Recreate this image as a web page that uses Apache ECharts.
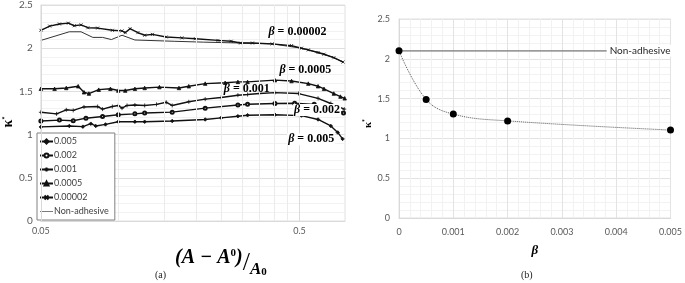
<!DOCTYPE html>
<html>
<head>
<meta charset="utf-8">
<title>kappa</title>
<script src="https://cdn.jsdelivr.net/npm/echarts@6/dist/echarts.min.js"></script>
<style>html,body{margin:0;padding:0;background:#fff;}</style>
</head>
<body>
<div id="main" style="width:685px;height:283px;"></div>
<script type="text/javascript">
// (a) kappa* vs (A-A0)/A0, log x
var s005 = [[0.05,1.089],[0.0644,1.10],[0.0727,1.092],[0.078,1.126],[0.0815,1.10],[0.0889,1.118],[0.0996,1.149],[0.1155,1.149],[0.126,1.149],[0.161,1.157],[0.216,1.175],[0.249,1.194],[0.289,1.213],[0.315,1.224],[0.402,1.23],[0.509,1.22],[0.59,1.175],[0.661,1.10],[0.703,1.025],[0.734,0.95]];
var s002 = [[0.05,1.157],[0.059,1.168],[0.0667,1.16],[0.0747,1.19],[0.0866,1.21],[0.0996,1.23],[0.1155,1.24],[0.126,1.25],[0.161,1.26],[0.216,1.306],[0.289,1.343],[0.315,1.351],[0.402,1.36],[0.479,1.363],[0.57,1.35],[0.64,1.32],[0.703,1.28],[0.74,1.25]];
var s001 = [[0.05,1.258],[0.0575,1.24],[0.0627,1.287],[0.0667,1.28],[0.0734,1.32],[0.0829,1.325],[0.0866,1.295],[0.0945,1.325],[0.0996,1.337],[0.103,1.306],[0.1077,1.337],[0.1155,1.343],[0.126,1.337],[0.14,1.35],[0.1527,1.374],[0.161,1.337],[0.1866,1.38],[0.216,1.41],[0.249,1.43],[0.289,1.456],[0.315,1.464],[0.35,1.475],[0.402,1.486],[0.496,1.475],[0.59,1.42],[0.661,1.36],[0.745,1.295]];
var s0005 = [[0.05,1.53],[0.0565,1.53],[0.0627,1.54],[0.0697,1.56],[0.0734,1.49],[0.0767,1.475],[0.0837,1.52],[0.0929,1.53],[0.0996,1.51],[0.106,1.51],[0.1155,1.53],[0.126,1.54],[0.1437,1.55],[0.171,1.54],[0.1866,1.56],[0.216,1.59],[0.258,1.60],[0.289,1.61],[0.315,1.61],[0.402,1.63],[0.466,1.62],[0.541,1.59],[0.59,1.56],[0.622,1.53],[0.679,1.475],[0.72,1.44],[0.748,1.42]];
var s00002 = [[0.05,2.207],[0.0541,2.256],[0.059,2.28],[0.0639,2.29],[0.0673,2.26],[0.0715,2.27],[0.076,2.237],[0.0829,2.233],[0.0945,2.207],[0.103,2.20],[0.106,2.18],[0.1106,2.226],[0.1186,2.18],[0.126,2.15],[0.135,2.16],[0.1527,2.13],[0.1756,2.12],[0.198,2.11],[0.242,2.09],[0.272,2.08],[0.296,2.06],[0.329,2.06],[0.392,2.05],[0.466,2.03],[0.509,2.0],[0.541,1.98],[0.59,1.95],[0.622,1.93],[0.679,1.89],[0.737,1.84]];
var nonAdh = [[0.05,2.09],[0.0644,2.19],[0.0715,2.19],[0.0794,2.125],[0.0866,2.125],[0.0937,2.10],[0.103,2.15],[0.1155,2.095],[0.164,2.08],[0.213,2.07],[0.296,2.06],[0.392,2.05],[0.509,2.0],[0.541,1.98],[0.622,1.93],[0.679,1.89],[0.737,1.84]];
var legendNames = ['0.005', '0.002', '0.001', '0.0005', '0.00002', 'Non-adhesive'];
var xMajorA = [0.05, 0.5];
var xMinorA = [0.1, 0.15, 0.2, 0.25, 0.3, 0.35, 0.4, 0.45];

// (b) kappa* vs beta
var beta = [0, 0.0005, 0.001, 0.002, 0.005];
var kappa = [2.10, 1.49, 1.305, 1.22, 1.105];
var kappaNonAdh = 2.10;

var myChart = echarts.init(document.getElementById('main'));

var gray = '#595959';
var serif = 'Liberation Serif';
var crossSym = 'path://M0,0L10,10M10,0L0,10';
var plusSym = 'path://M5,0L5,10M0,5L10,5';
var lineIcon = 'path://M0,4.5L20,4.5L20,5.5L0,5.5Z';

function betaLabel(txt, x, y, bg) {
	return {
		silent: true,
		symbol: 'circle',
		symbolSize: 0,
		label: {
			show: true, position: 'inside',
			formatter: '{i|β} = ' + txt,
			fontFamily: serif, fontWeight: 'bold', fontSize: 12, color: '#000',
			backgroundColor: bg ? '#fff' : 'transparent',
			padding: [0, 1],
			rich: { i: { fontFamily: serif, fontWeight: 'bold', fontStyle: 'italic', fontSize: 12, color: '#000' } }
		},
		data: [{ coord: [x, y] }]
	};
}

function curve(name, data, sym, size, extra) {
	var s = {
		name: name, type: 'line', xAxisIndex: 0, yAxisIndex: 0,
		data: data, symbol: sym, symbolSize: size, showSymbol: true,
		z: 3,
		itemStyle: { color: '#111', borderColor: '#111', borderWidth: 0.8 },
		lineStyle: { color: '#111', width: 1.4 },
		emphasis: { disabled: true }
	};
	for (var k in extra) s[k] = extra[k];
	return s;
}

var gridLinesA = xMinorA.map(function (v) { return { xAxis: v }; });
xMajorA.forEach(function (v) {
	gridLinesA.push({
		xAxis: v,
		lineStyle: { color: v === 0.05 ? '#d9d9d9' : '#dcdcdc' },
		label: { show: true, position: 'start', distance: 6, formatter: String(v), color: gray, fontSize: 9, fontFamily: 'Lato' }
	});
});

var option = {
	animation: false,
	backgroundColor: '#fff',
	textStyle: { fontFamily: 'Lato' },
	grid: [
		{ left: 34, top: 4, width: 311, height: 222, show: true, borderColor: '#e0e0e0', borderWidth: 1 },
		{ left: 399, top: 19, width: 275, height: 199, show: true, borderColor: '#e0e0e0', borderWidth: 1 }
	],
	legend: {
		orient: 'vertical', left: 37, top: 133,
		data: legendNames.map(function (n) {
			return n === 'Non-adhesive' ? { name: n, icon: lineIcon } : { name: n };
		}),
		backgroundColor: '#fff',
		borderColor: '#808080', borderWidth: 1,
		padding: [4, 6, 4, 2],
		itemGap: 5, itemWidth: 13, itemHeight: 5,
		textStyle: { fontSize: 9, color: '#404040', fontFamily: 'Lato', padding: [0, 0, 0, -4] }
	},
	xAxis: [
		{
			type: 'log', logBase: 10, gridIndex: 0, min: 0.05, max: 0.75,
			axisLabel: { show: false }, axisTick: { show: false }, splitLine: { show: false },
			axisLine: { lineStyle: { color: '#d9d9d9' } },
			name: '{p|(A − A}{sup|0}{p|)}{sl|/}{d|A}{sub|0}',
			nameLocation: 'middle', nameGap: 27,
			nameTextStyle: {
				padding: [0, 0, 0, 56],
				rich: {
					p: { fontFamily: serif, fontWeight: 'bold', fontStyle: 'italic', fontSize: 20, color: '#000', lineHeight: 30, verticalAlign: 'top' },
					sup: { fontFamily: serif, fontWeight: 'bold', fontSize: 11, color: '#000', lineHeight: 30, verticalAlign: 'top' },
					sl: { fontFamily: serif, fontSize: 26, color: '#000', lineHeight: 30, verticalAlign: 'middle' },
					d: { fontFamily: serif, fontWeight: 'bold', fontStyle: 'italic', fontSize: 17, color: '#000', lineHeight: 30, verticalAlign: 'bottom' },
					sub: { fontFamily: serif, fontWeight: 'bold', fontSize: 11, color: '#000', lineHeight: 26, verticalAlign: 'bottom' }
				}
			}
		},
		{
			type: 'value', gridIndex: 1, min: 0, max: 0.005, interval: 0.001,
			axisLabel: { color: gray, fontSize: 9, margin: 10 },
			axisTick: { show: false },
			axisLine: { lineStyle: { color: '#d9d9d9' } },
			splitLine: { lineStyle: { color: '#e3e3e3' } },
			minorTick: { show: false, splitNumber: 5 },
			minorSplitLine: { show: true, lineStyle: { color: '#f2f2f2' } },
			name: 'β', nameLocation: 'middle', nameGap: 26,
			nameTextStyle: { fontFamily: serif, fontWeight: 'bold', fontStyle: 'italic', fontSize: 13, color: '#000' }
		}
	],
	yAxis: [
		{
			type: 'value', gridIndex: 0, min: 0, max: 2.5, interval: 0.5,
			axisLabel: { color: gray, fontSize: 10, margin: 8 },
			axisTick: { show: false },
			axisLine: { show: true, lineStyle: { color: '#d9d9d9' } },
			splitLine: { lineStyle: { color: '#dedede' } },
			minorTick: { show: false, splitNumber: 5 },
			minorSplitLine: { show: true, lineStyle: { color: '#f2f2f2' } },
			name: '{k|κ}{s|*}', nameLocation: 'middle', nameGap: 24, nameRotate: 90,
			nameTextStyle: { padding: [0, 18, 0, 0], rich: { k: { fontFamily: serif, fontWeight: 'bold', fontSize: 14, color: '#000' }, s: { fontSize: 8, fontWeight: 'bold', color: '#000', verticalAlign: 'top', lineHeight: 14 } } }
		},
		{
			type: 'value', gridIndex: 1, min: 0, max: 2.5, interval: 0.5,
			axisLabel: { color: gray, fontSize: 9, margin: 9 },
			axisTick: { show: false },
			axisLine: { show: true, lineStyle: { color: '#d9d9d9' } },
			splitLine: { lineStyle: { color: '#e3e3e3' } },
			minorTick: { show: false, splitNumber: 5 },
			minorSplitLine: { show: true, lineStyle: { color: '#f2f2f2' } },
			name: '{k|κ}{s|*}', nameLocation: 'middle', nameGap: 21, nameRotate: 90,
			nameTextStyle: { padding: [0, 10, 0, 0], rich: { k: { fontFamily: serif, fontWeight: 'bold', fontSize: 11, color: '#000' }, s: { fontSize: 7, fontWeight: 'bold', color: '#000', verticalAlign: 'top', lineHeight: 11 } } }
		}
	],
	series: [
		{
			name: 'grid-a', type: 'line', xAxisIndex: 0, yAxisIndex: 0, data: [], z: 1, silent: true,
			markLine: {
				silent: true, symbol: ['none', 'none'], animation: false,
				label: { show: false },
				lineStyle: { color: '#ebebeb', type: 'solid', width: 1 },
				data: gridLinesA
			}
		},
		{
			name: 'Non-adhesive', type: 'line', xAxisIndex: 0, yAxisIndex: 0, data: nonAdh,
			symbol: 'none', z: 2, color: '#333',
			lineStyle: { color: '#333', width: 1 }
		},
		curve('0.00002', s00002, crossSym, 3, { markPoint: betaLabel('0.00002', 0.491, 2.185) }),
		curve('0.0005', s0005, 'triangle', 3.5, { markPoint: betaLabel('0.0005', 0.527, 1.745) }),
		curve('0.001', s001, plusSym, 4, { markPoint: betaLabel('0.001', 0.313, 1.53) }),
		curve('0.002', s002, 'emptyCircle', 3, { markPoint: betaLabel('0.002', 0.585, 1.284, true) }),
		curve('0.005', s005, 'diamond', 3.5, { markPoint: betaLabel('0.005', 0.555, 0.946, true) }),
		{
			name: 'b-nonadh', type: 'line', xAxisIndex: 1, yAxisIndex: 1,
			data: [[beta[0], kappaNonAdh], [beta[beta.length - 1], kappaNonAdh]],
			symbol: 'none', lineStyle: { color: '#7a7a7a', width: 1.3 }, z: 2,
			markPoint: {
				silent: true, symbol: 'circle', symbolSize: 0,
				label: { show: true, position: 'inside', formatter: 'Non-adhesive', backgroundColor: '#fff', padding: [1, 3], color: '#262626', fontSize: 10, fontFamily: 'Lato' },
				data: [{ coord: [0.00444, kappaNonAdh] }]
			}
		},
		{
			name: 'b-curve', type: 'line', xAxisIndex: 1, yAxisIndex: 1,
			data: beta.map(function (b, i) { return [b, kappa[i]]; }),
			smooth: 0.4,
			symbol: 'circle', symbolSize: 7,
			itemStyle: { color: '#000' },
			lineStyle: { color: '#555', type: 'dotted', width: 1 }, z: 3
		}
	],
	graphic: [
		{ type: 'text', left: 155, top: 270, style: { text: '(a)', font: '10px "Liberation Serif"', fill: '#222' } },
		{ type: 'text', left: 521, top: 270, style: { text: '(b)', font: '10px "Liberation Serif"', fill: '#222' } }
	]
};

myChart.setOption(option);
</script>
</body>
</html>
